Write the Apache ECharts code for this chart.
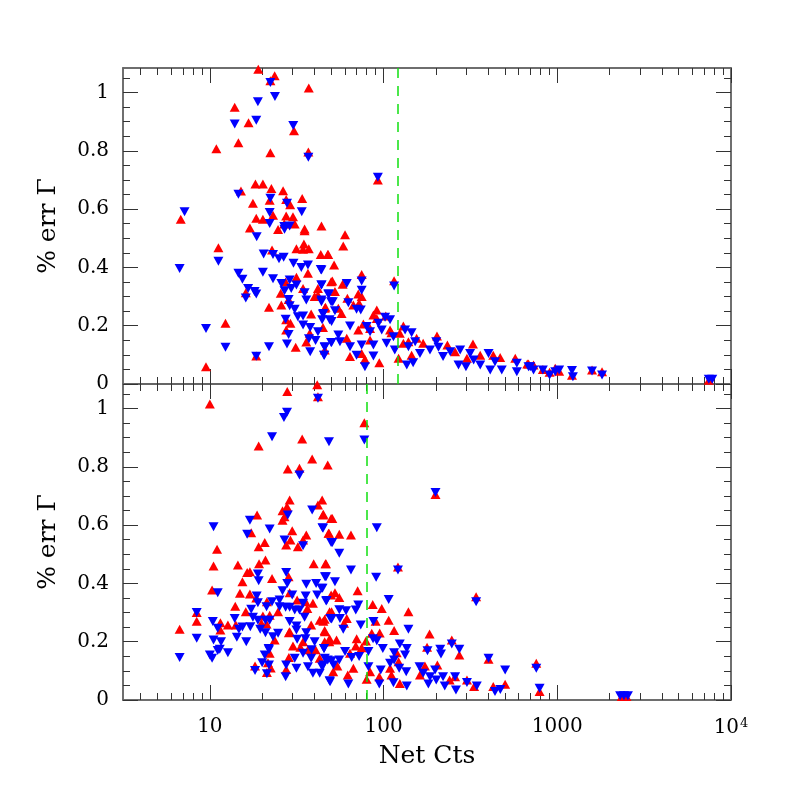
<!DOCTYPE html>
<html>
<head>
<meta charset="utf-8">
<script src="https://cdn.jsdelivr.net/npm/echarts@6/dist/echarts.min.js"></script>
<style>html,body{margin:0;background:#fff}#chart{width:797px;height:797px}</style>
</head>
<body>
<div id="chart"></div>
<script>
// top panel: [net counts, % err Gamma]
var topRed = [[19.0,1.08],[23.6,1.057],[22.3,1.04],[37.1,1.015],[13.9,0.949],[16.7,0.896],[30.5,0.869],[14.6,0.828],[10.9,0.807],[22.3,0.793],[36.9,0.796],[18.3,0.686],[20.2,0.686],[22.6,0.671],[26.4,0.663],[15.1,0.662],[17.7,0.620],[22.1,0.630],[27.5,0.633],[29,0.615],[34.0,0.636],[6.8,0.565],[23.1,0.579],[18.5,0.569],[20.2,0.565],[27.5,0.576],[30.1,0.574],[26.8,0.549],[30.8,0.549],[43.9,0.542],[17.0,0.535],[24.7,0.53],[35.1,0.532],[35.1,0.526],[11.2,0.467],[22.8,0.46],[31.5,0.464],[34.4,0.462],[34.8,0.480],[37.1,0.464],[43.5,0.444],[47.7,0.444],[36.7,0.380],[27.3,0.350],[31.5,0.366],[16.1,0.313],[25.6,0.311],[34.4,0.328],[41.9,0.328],[41.9,0.305],[49.9,0.351],[28.4,0.29],[40.1,0.300],[46.3,0.263],[21.9,0.263],[25.8,0.271],[38.3,0.240],[27.5,0.220],[29.1,0.208],[44.8,0.194],[27.5,0.185],[12.3,0.208],[37.6,0.174],[35.9,0.144],[31.2,0.126],[18.5,0.096],[9.5,0.059],
  [60.0,0.512],[58.6,0.473],[48,0.444],[51.9,0.408],[74.8,0.376],[50.7,0.353],[58.1,0.342],[115,0.354],[52.5,0.317],[71.5,0.309],[74.8,0.300],[61.9,0.294],[67.0,0.271],[72.3,0.277],[54.9,0.260],[45.9,0.260],[57.3,0.242],[91.4,0.254],[87.4,0.237],[103,0.233],[91.4,0.225],[76.5,0.206],[71.5,0.185],[83.6,0.19],[109,0.185],[130,0.199],[111,0.176],[124,0.174],[155,0.157],[139,0.145],[130,0.140],[61.4,0.157],[83.6,0.151],[122,0.088],[45.9,0.117],[64.1,0.094],[74.8,0.105],[78.1,0.085],[94.5,0.073],[145,0.099],[169,0.140],[203,0.165],[233,0.134],[258,0.111],[302,0.088],[327,0.137],[360,0.099],[428,0.099],[469,0.091],[573,0.088],[672,0.069],
  [683,0.069],[730,0.065],[826,0.050],[903,0.04],[973,0.054],[1025,0.044],[1215,0.03],[1585,0.048],[1810,0.042],[7450,0.013],[92.7,0.70]];
var topBlue = [[22.3,1.034],[23.7,0.986],[18.9,0.968],[18.5,0.905],[13.9,0.892],[30.2,0.887],[36.9,0.778],[14.6,0.651],[22.3,0.637],[27.8,0.620],[33.8,0.591],[7.15,0.591],[22.1,0.588],[22.1,0.551],[26.8,0.54],[26.9,0.531],[28.8,0.542],[18.6,0.505],[11.2,0.421],[6.7,0.396],[20.4,0.446],[23.1,0.444],[25.0,0.430],[26.6,0.435],[30.3,0.414],[33.6,0.400],[36.7,0.408],[43.5,0.393],[14.6,0.380],[15.4,0.359],[20.2,0.383],[23.1,0.361],[25.8,0.345],[28.8,0.357],[31.5,0.340],[16.6,0.328],[18.1,0.317],[16.1,0.295],[18.5,0.309],[26.9,0.320],[29.4,0.328],[35.1,0.313],[43.9,0.340],[48.5,0.309],[28.4,0.290],[28.8,0.268],[30.8,0.256],[35.9,0.288],[43.9,0.282],[49.9,0.282],[32.1,0.231],[34.4,0.233],[44.8,0.239],[44.3,0.220],[48.9,0.220],[27.3,0.222],[34.4,0.202],[37.8,0.194],[41.9,0.179],[28.4,0.170],[9.5,0.190],[12.3,0.126],[37.2,0.155],[40.6,0.149],[49.9,0.142],[27.8,0.137],[21.9,0.128],[37.8,0.111],[45.8,0.126],[45.6,0.099],[18.5,0.095],
  [43.9,0.391],[74.8,0.353],[43.9,0.340],[61.4,0.345],[115,0.336],[74.8,0.322],[48.0,0.309],[43.9,0.288],[51,0.282],[62.7,0.279],[69.9,0.256],[52.5,0.251],[73.9,0.254],[45.0,0.242],[102,0.229],[109,0.220],[93.4,0.208],[50.2,0.214],[64.1,0.199],[79.9,0.197],[83.6,0.179],[97.6,0.185],[133,0.185],[114,0.162],[145,0.176],[152,0.145],[139,0.128],[54.9,0.168],[56.1,0.145],[50.2,0.142],[64.1,0.128],[74.8,0.134],[87.4,0.134],[104,0.140],[116,0.117],[45.9,0.128],[45.4,0.099],[69.9,0.099],[78.1,0.059],[87.4,0.096],[136,0.065],[148,0.073],[162,0.105],[185,0.117],[201,0.145],[207,0.126],[220,0.094],[242,0.111],[276,0.117],[270,0.065],[298,0.059],[315,0.105],[330,0.082],[360,0.065],[402,0.105],[411,0.048],[438,0.076],[479,0.048],[585,0.042],[585,0.071],[683,0.059],
  [699,0.059],[730,0.048],[826,0.048],[903,0.031],[973,0.042],[1025,0.048],[1215,0.046],[1230,0.025],[1585,0.045],[1810,0.031],[7450,0.016],[7800,0.016],[92.7,0.709]];

// bottom panel
var botRed = [[41.5,1.081],[41.9,1.04],[27.9,1.058],[10,1.015],[34.0,0.895],[19.1,0.871],[38.8,0.827],[47.7,0.806],[28.1,0.792],[32.8,0.795],[28.8,0.686],[27.8,0.663],[26.2,0.649],[44.3,0.686],[41.9,0.669],[26.9,0.629],[26.2,0.617],[18.7,0.635],[44.8,0.635],[49.9,0.623],[29.8,0.581],[17.3,0.574],[48.2,0.572],[20.7,0.540],[19.1,0.526],[27.5,0.532],[29.1,0.549],[35.9,0.566],[34.4,0.549],[32.1,0.526],[11.0,0.517],
  [10.5,0.460],[10.3,0.377],[14.5,0.463],[19.2,0.467],[20.9,0.480],[17.0,0.440],[16.4,0.437],[22.8,0.417],[28.4,0.423],[15.4,0.406],[14.9,0.366],[17.0,0.364],[18.5,0.35],[28.8,0.368],[31.8,0.343],[39.6,0.467],[46.3,0.467],[35.6,0.337],[39.2,0.332],[49.9,0.360],[21.3,0.337],[14.0,0.322],[16.1,0.303],[20.2,0.288],[22.1,0.291],[19.8,0.263],[21.2,0.261],[24.7,0.303],[36.4,0.314],[38.3,0.257],[28.8,0.234],[34.4,0.200],[42.9,0.274],[45.8,0.277],[48.9,0.303],[45.8,0.238],[45.8,0.200],[48.9,0.21],[30.1,0.185],[33.2,0.181],[36.7,0.172],[40.6,0.172],[42.9,0.143],[28.5,0.146],[27.5,0.105],[22.1,0.160],[21.6,0.128],[18.2,0.117],[21.3,0.094],[22.4,0.11],[6.7,0.243],[8.4,0.30],[8.4,0.270],[11.5,0.265],[12.7,0.257],[11.5,0.240],[14.1,0.257],[23.6,0.206],[28.5,0.231],
  [77.5,0.951],[199,0.705],[45,0.637],[50.7,0.623],[48.5,0.572],[55.6,0.569],[64.9,0.566],
  [46.6,0.467],[121,0.456],[52.5,0.368],[55.6,0.352],[70.9,0.375],[341,0.354],[86.6,0.328],[97.6,0.314],[50.2,0.303],[139,0.303],[107,0.274],[90,0.27],[61.4,0.280],[45,0.27],[59.2,0.263],[115,0.238],[45.9,0.234],[85.5,0.229],[95,0.23],[184,0.226],[53.6,0.206],[48.7,0.200],[79.2,0.202],[70,0.21],[247,0.206],[69.2,0.185],[64.1,0.160],[74.8,0.179],[178,0.181],[273,0.154],[119,0.162],[67.0,0.109],[54.2,0.117],[83.6,0.097],[109,0.109],[122,0.131],[111,0.086],[124,0.057],[94.5,0.080],[79.9,0.071],[62.2,0.086],[51.3,0.097],[173,0.117],[162,0.086],[204,0.120],[240,0.069],[258,0.08],[302,0.069],[332,0.046],[402,0.14],[428,0.046],[501,0.054],
  [757,0.126],[791,0.029],[2350,0.012],[2500,0.012]];
var botBlue = [[41.9,1.035],[27.8,0.987],[26.7,0.969],[22.8,0.903],[48.5,0.886],[32.8,0.772],[38.8,0.652],[28.1,0.635],[17.0,0.617],[10.5,0.594],[22.1,0.587],[44.8,0.589],[16.4,0.569],[26.9,0.549],[34.4,0.529],[49.9,0.540],
  [11.1,0.368],[18.9,0.432],[19.1,0.409],[27.5,0.437],[27.9,0.400],[18.6,0.357],[18.9,0.334],[26.2,0.375],[25.2,0.343],[29.8,0.360],[35.9,0.397],[40.9,0.400],[46.0,0.423],[43.9,0.383],[41.5,0.360],[35.6,0.357],[34.4,0.332],[46.7,0.340],[21.2,0.320],[22.8,0.337],[17.3,0.311],[17.7,0.284],[18.9,0.274],[22.1,0.274],[20.9,0.274],[19.5,0.243],[20.9,0.231],[25.2,0.320],[27.3,0.318],[28.8,0.318],[30.8,0.309],[32.8,0.309],[35.1,0.284],[28.8,0.269],[31.5,0.254],[31.5,0.240],[31.8,0.208],[35.9,0.231],[35.5,0.21],[49.4,0.280],[40.1,0.200],[45.4,0.177],[34.4,0.160],[38.5,0.172],[38.3,0.143],[47.7,0.137],[44.3,0.114],[39.2,0.092],[42.9,0.092],[48.9,0.066],[36.7,0.114],[30.8,0.143],[27.5,0.120],[31.5,0.109],[27.3,0.080],[21.9,0.172],[20.7,0.154],[20.0,0.128],[21.9,0.12],[18.2,0.101],[21.3,0.09],[6.7,0.146],[8.4,0.300],[8.4,0.212],[10.4,0.269],[11.1,0.246],[10.5,0.206],[11.6,0.200],[11.4,0.174],[11.1,0.17],[12.7,0.162],[10.0,0.154],[10.3,0.143],[13.9,0.280],[14.7,0.243],[14.3,0.215],[15.4,0.25],[16.2,0.200],[17.1,0.251],[23.1,0.217],[24.7,0.229],[21.8,0.177],
  [77.5,0.892],[199,0.712],[44.5,0.591],[50.7,0.540],[91.4,0.591],
  [55.6,0.503],[64.9,0.446],[121,0.446],[90.6,0.421],[46.6,0.423],[52.5,0.406],[44.5,0.383],[47,0.341],[107,0.345],[341,0.337],[69.2,0.309],[71.5,0.326],[55.6,0.31],[60.8,0.306],[87.4,0.269],[73.9,0.257],[56.1,0.280],[50.2,0.278],[58.6,0.243],[139,0.243],[87,0.21],[91.4,0.203],[247,0.192],[99,0.177],[60,0.166],[45.4,0.177],[81.8,0.166],[179,0.169],[212,0.174],[214,0.158],[273,0.174],[124,0.192],[136,0.177],[115,0.162],[133,0.154],[115,0.137],[45.9,0.143],[50.2,0.135],[55.6,0.137],[65.5,0.146],[72.3,0.149],[51.5,0.12],[45,0.12],[81.8,0.114],[96.3,0.103],[109,0.126],[123,0.109],[114,0.059],[135,0.097],[136,0.048],[94.5,0.055],[62.7,0.055],[49.2,0.063],[161,0.114],[169,0.092],[185,0.080],[181,0.055],[198,0.103],[201,0.069],[220,0.080],[225,0.048],[258,0.080],[261,0.034],[302,0.06],[344,0.048],[402,0.143],[501,0.103],[438,0.029],[470,0.036],
  [757,0.109],[791,0.04],[2300,0.015],[2420,0.015],[2550,0.015]];

var cutTop = 121;     // green dashed line, top panel
var cutBottom = 80;   // green dashed line, bottom panel

var xMajor = [10, 100, 1000, 10000];
var xMinor = [4,5,6,7,8,9,20,30,40,50,60,70,80,90,200,300,400,500,600,700,800,900,2000,3000,4000,5000,6000,7000,8000,9000];
var yMajor = [0, 0.2, 0.4, 0.6, 0.8, 1];
var yMinor = [0.05,0.1,0.15,0.25,0.3,0.35,0.45,0.5,0.55,0.65,0.7,0.75,0.85,0.9,0.95,1.05];

var font = 'DejaVu Serif';
var frame = '#666';

function xAx(g, pos, ticks, len, withLabels) {
  return {
    type: 'log', gridIndex: g, position: pos, min: Math.sqrt(10), max: 10000,
    axisLine: {show: true, onZero: false, lineStyle: {color: frame, width: 1.5}},
    axisTick: {show: true, inside: true, length: len, customValues: ticks, lineStyle: {color: '#333', width: 1}},
    axisLabel: {
      show: withLabels, customValues: xMajor, margin: 17,
      formatter: function (v) {
        var r = Math.round(v);
        return r >= 10000 ? '{b|10}{s|4}' : '{b|' + r + '}';
      },
      rich: {
        b: {fontFamily: font, fontSize: 20, color: '#000'},
        s: {fontFamily: font, fontSize: 13, color: '#000', padding: [0, 0, 9, 1]}
      }
    },
    name: withLabels ? 'Net Cts' : '', nameLocation: 'middle', nameGap: 44,
    nameTextStyle: {fontFamily: font, fontSize: 25, color: '#000'},
    splitLine: {show: false}
  };
}

function yAx(g, pos, ticks, len, withLabels) {
  return {
    type: 'value', gridIndex: g, position: pos, min: 0, max: 1.084,
    axisLine: {show: true, onZero: false, lineStyle: {color: frame, width: 1.5}},
    axisTick: {show: true, inside: true, length: len, customValues: ticks, lineStyle: {color: '#333', width: 1}},
    axisLabel: {
      show: withLabels, customValues: yMajor, margin: 14,
      fontFamily: font, fontSize: 20, color: '#000',
      formatter: function (v) { return String(+v.toFixed(2)); }
    },
    name: withLabels ? '% err Γ' : '', nameLocation: 'middle', nameGap: 62, nameRotate: 90,
    nameTextStyle: {fontFamily: font, fontSize: 25, color: '#000'},
    splitLine: {show: false}
  };
}

var xAxes = [], yAxes = [];
[0, 1].forEach(function (g) {
  xAxes.push(xAx(g, 'bottom', xMajor, 15, g === 1));
  xAxes.push(xAx(g, 'bottom', xMinor, 7, false));
  xAxes.push(xAx(g, 'top', xMajor, 15, false));
  xAxes.push(xAx(g, 'top', xMinor, 7, false));
  yAxes.push(yAx(g, 'left', yMajor, 15, true));
  yAxes.push(yAx(g, 'left', yMinor, 7, false));
  yAxes.push(yAx(g, 'right', yMajor, 15, false));
  yAxes.push(yAx(g, 'right', yMinor, 7, false));
});

function cutLine(x) {
  return {
    symbol: 'none', silent: true, label: {show: false},
    lineStyle: {color: '#11e011', type: [10, 8], width: 1.5},
    data: [{xAxis: x}]
  };
}

function pts(g, data, color, up, cut) {
  var s = {
    type: 'scatter', xAxisIndex: 4 * g, yAxisIndex: 4 * g, data: data,
    symbol: 'triangle', symbolSize: [10, 9], symbolRotate: up ? 0 : 180,
    itemStyle: {color: color, opacity: 1}
  };
  if (cut) s.markLine = cutLine(cut);
  return s;
}

var chart = echarts.init(document.getElementById('chart'));
chart.setOption({
  animation: false,
  backgroundColor: '#fff',
  grid: [
    {left: 123, top: 68, width: 608, height: 316},
    {left: 123, top: 384, width: 608, height: 316}
  ],
  xAxis: xAxes,
  yAxis: yAxes,
  series: [
    pts(0, topRed, '#ff0000', true, cutTop),
    pts(0, topBlue, '#0000ff', false),
    pts(1, botRed, '#ff0000', true, cutBottom),
    pts(1, botBlue, '#0000ff', false)
  ]
});
</script>
</body>
</html>
